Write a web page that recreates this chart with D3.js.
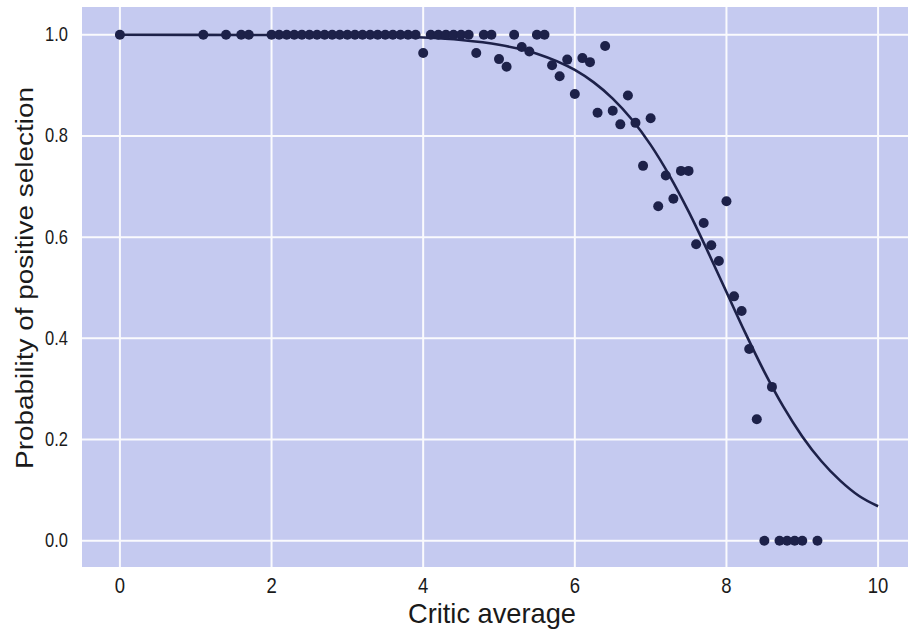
<!DOCTYPE html>
<html>
<head>
<meta charset="utf-8">
<script src="https://cdn.jsdelivr.net/npm/d3@7"></script>
<style>
  html, body { margin: 0; padding: 0; background: #ffffff; }
  svg { display: block; }
  text { font-family: "Liberation Sans", Arial, Helvetica, sans-serif; fill: #1a1a1a; }
</style>
</head>
<body>
<svg id="chart" width="908" height="632"></svg>
<script>
// Observed outcomes: critic average vs. selection (1 = selected, 0 = not)
const obsX = [
  0, 1.1, 1.4, 1.6, 1.7, 2.0, 2.1, 2.2, 2.3, 2.4, 2.5, 2.6, 2.7, 2.8, 2.9,
  3.0, 3.1, 3.2, 3.3, 3.4, 3.5, 3.6, 3.7, 3.8, 3.9, 4.1, 4.2, 4.3, 4.4, 4.5,
  4.6, 4.8, 4.9, 5.2, 5.5, 5.6,
  4.0, 4.7, 5.0, 5.1, 5.3, 5.4, 5.7, 5.8, 5.9, 6.1, 6.2, 6.4,
  6.0, 6.3, 6.5, 6.6, 6.7, 6.8, 7.0, 6.9, 7.2, 7.4, 7.5, 7.3, 7.1, 8.0,
  7.7, 7.6, 7.8, 7.9, 8.1, 8.2, 8.3, 8.6, 8.4,
  8.5, 8.7, 8.8, 8.9, 9.0, 9.2
];
const obsY = [
  1, 1, 1, 1, 1, 1, 1, 1, 1, 1, 1, 1, 1, 1, 1,
  1, 1, 1, 1, 1, 1, 1, 1, 1, 1, 1, 1, 1, 1, 1,
  1, 1, 1, 1, 1, 1,
  0.964, 0.964, 0.952, 0.937, 0.976, 0.967, 0.940, 0.918, 0.951, 0.954, 0.946, 0.978,
  0.883, 0.846, 0.850, 0.823, 0.880, 0.826, 0.835, 0.741, 0.722, 0.731, 0.731, 0.676, 0.661, 0.671,
  0.628, 0.586, 0.584, 0.553, 0.483, 0.454, 0.379, 0.304, 0.240,
  0, 0, 0, 0, 0, 0
];

// Fitted probability curve, sampled along the critic scale
const fitX = [0, 1, 2, 3, 3.5, 4, 4.5, 5, 5.5, 6, 6.25, 6.5, 6.75, 7, 7.25, 7.5,
              7.75, 8, 8.25, 8.5, 8.75, 9, 9.25, 9.5, 9.75, 10];
const fitY = [1.0, 0.9999, 0.9996, 0.9986, 0.9972, 0.9946, 0.9897, 0.9803, 0.9627,
              0.9305, 0.906, 0.874, 0.8331, 0.7825, 0.7213, 0.6509, 0.573, 0.4915,
              0.4103, 0.3338, 0.265, 0.2062, 0.1575, 0.1187, 0.0883, 0.068];

const xTicks = [0, 2, 4, 6, 8, 10];
const yTicks = [0.0, 0.2, 0.4, 0.6, 0.8, 1.0];

const xTitle = "Critic average";
const yTitle = "Probability of positive selection";

const svg = d3.select("#chart");

const x = d3.scaleLinear().domain([-0.5, 10.5]).range([82, 916]);
const y = d3.scaleLinear().domain([-0.052, 1.055]).range([567, 7]);

const ink = "#1d2149";
const stretch = 1.18; // type is set slightly tall and narrow

// panel background
svg.append("rect")
  .attr("x", x(-0.5)).attr("y", y(1.055))
  .attr("width", x(10.5) - x(-0.5))
  .attr("height", y(-0.052) - y(1.055))
  .attr("fill", "#c5caf0");

// grid
const grid = svg.append("g").attr("stroke", "#ffffff").attr("stroke-width", 2).attr("opacity", 0.92);
grid.selectAll("line.v").data(xTicks).join("line")
  .attr("class", "v")
  .attr("x1", d => x(d)).attr("x2", d => x(d))
  .attr("y1", y(1.055)).attr("y2", y(-0.052));
grid.selectAll("line.h").data(yTicks).join("line")
  .attr("class", "h")
  .attr("y1", d => y(d)).attr("y2", d => y(d))
  .attr("x1", x(-0.5)).attr("x2", x(10.5));

// tick labels
const fmtX = d3.format("d");
const fmtY = d3.format(".1f");
svg.append("g").selectAll("text").data(xTicks).join("text")
  .attr("transform", d => `translate(${x(d)},${y(-0.052) + 26}) scale(1,${stretch})`)
  .attr("text-anchor", "middle")
  .attr("font-size", 18.5)
  .text(fmtX);

svg.append("g").selectAll("text").data(yTicks).join("text")
  .attr("transform", d => `translate(${x(-0.5) - 14},${y(d) + 6.5}) scale(1,${stretch})`)
  .attr("text-anchor", "end")
  .attr("font-size", 16.5)
  .text(fmtY);

// axis titles
svg.append("text")
  .attr("transform", `translate(492,623) scale(1,${stretch})`)
  .attr("text-anchor", "middle")
  .attr("font-size", 23)
  .attr("textLength", 168)
  .attr("lengthAdjust", "spacingAndGlyphs")
  .text(xTitle);

svg.append("text")
  .attr("transform", "translate(33,278) rotate(-90)")
  .attr("text-anchor", "middle")
  .attr("font-size", 23)
  .attr("textLength", 382)
  .attr("lengthAdjust", "spacingAndGlyphs")
  .text(yTitle);

// fitted curve
const line = d3.line()
  .x((d, i) => x(fitX[i]))
  .y((d, i) => y(fitY[i]))
  .curve(d3.curveMonotoneX);
svg.append("path")
  .datum(fitX)
  .attr("d", line)
  .attr("fill", "none")
  .attr("stroke", ink)
  .attr("stroke-width", 2.6);

// observations
svg.append("g").selectAll("circle")
  .data(obsX.map((v, i) => ({ x: v, y: obsY[i] })))
  .join("circle")
  .attr("cx", d => x(d.x))
  .attr("cy", d => y(d.y))
  .attr("r", 5)
  .attr("fill", ink);
</script>
</body>
</html>
